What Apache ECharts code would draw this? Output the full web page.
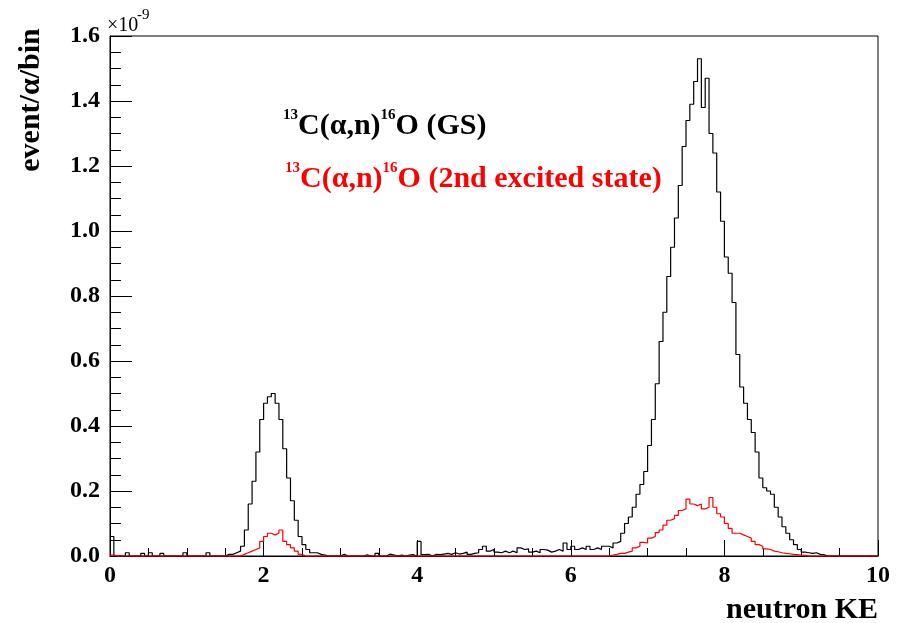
<!DOCTYPE html>
<html>
<head>
<meta charset="utf-8">
<script src="https://cdn.jsdelivr.net/npm/echarts@6/dist/echarts.min.js"></script>
<style>
  html, body { margin: 0; padding: 0; background: #fff; }
  #chart { width: 899px; height: 623px; }
</style>
</head>
<body>
<div id="chart"></div>
<script>
// Histogram binning (neutron KE axis)
const binStart = 0;
const binWidth = 0.05;

// 13C(a,n)16O ground state, event/alpha/bin in units of 1e-9 (bins of 0.05)
const gsValues = [
  0.06,0,0,0,0.01,0,0,0,0.008,0,0.01,0,0,0.008,0,0,0,0,0,0.01,
  0,0,0,0,0,0.01,0,0,0,0,0.005,0.005,0.01,0.015,0.03,0.08,0.16,0.23,0.32,0.42,
  0.47,0.49,0.50,0.47,0.42,0.33,0.24,0.17,0.11,0.06,0.035,0.02,0.01,0.01,0.005,0.003,0,0,0,0,
  0.005,0,0,0,0,0,0.004,0,0,0.008,0,0,0.006,0.003,0,0.003,0,0.003,0.004,0,
  0.045,0.004,0.005,0,0.005,0.004,0.006,0.008,0.005,0.01,0.006,0.008,0.012,0.005,0.008,0.01,0.02,0.03,0.015,0.02,
  0.012,0.01,0.015,0.01,0.015,0.01,0.025,0.02,0.022,0.012,0.015,0.01,0.02,0.018,0.012,0.015,0.02,0.015,0.04,0.02,
  0.03,0.02,0.025,0.02,0.03,0.02,0.025,0.02,0.03,0.03,0.025,0.04,0.045,0.07,0.10,0.12,0.15,0.19,0.22,0.26,
  0.34,0.42,0.53,0.66,0.75,0.86,0.95,1.04,1.14,1.26,1.34,1.39,1.46,1.53,1.38,1.47,1.30,1.24,1.12,1.03,
  0.92,0.87,0.78,0.62,0.52,0.47,0.42,0.38,0.32,0.24,0.21,0.20,0.19,0.15,0.12,0.09,0.07,0.05,0.035,0.02,
  0.012,0.01,0.008,0.01,0.005,0.004,0,0,0,0,0,0,0,0,0,0,0,0,0,0
];

// 13C(a,n)16O 2nd excited state
const excValues = [
  0.003,0,0,0,0,0,0,0,0,0,0,0,0,0,0,0,0,0,0,0,
  0,0,0,0,0,0,0,0,0,0,0,0,0,0,0.005,0.01,0.015,0.02,0.025,0.045,
  0.06,0.07,0.065,0.07,0.08,0.045,0.035,0.025,0.015,0.005,0,0,0,0,0,0,0,0,0,0,
  0,0,0,0,0,0,0,0,0,0,0,0,0,0,0,0,0,0,0,0,
  0,0,0,0,0,0,0,0,0,0,0,0,0,0,0,0,0,0,0,0,
  0,0,0,0,0,0,0,0,0,0,0,0,0,0,0,0,0,0,0,0,
  0,0,0,0,0,0,0,0,0,0,0.003,0.005,0.008,0.008,0.012,0.015,0.025,0.03,0.042,0.04,
  0.055,0.06,0.072,0.08,0.095,0.11,0.115,0.125,0.14,0.145,0.175,0.16,0.155,0.16,0.145,0.15,0.18,0.15,0.13,0.12,
  0.10,0.085,0.07,0.07,0.065,0.06,0.055,0.045,0.035,0.03,0.022,0.02,0.015,0.013,0.01,0.008,0.007,0.005,0.004,0.003,
  0.002,0,0,0,0,0,0,0,0,0,0,0,0,0,0,0,0,0,0,0
];

const xMin = 0, xMax = 10, xInterval = 2;
const yMin = 0, yMax = 1.6, yInterval = 0.2;

function toSteps(vals) {
  const d = vals.map((v, i) => [+(binStart + i * binWidth).toFixed(4), v]);
  d.push([+(binStart + vals.length * binWidth).toFixed(4), vals[vals.length - 1]]);
  return d;
}

const SERIF = '"Liberation Serif", "Times New Roman", serif';
const chart = echarts.init(document.getElementById('chart'), null, { renderer: 'canvas' });

chart.setOption({
  animation: false,
  backgroundColor: '#fff',
  grid: { left: 110, right: 21, top: 36, bottom: 67, show: true, borderColor: '#000', borderWidth: 1, backgroundColor: 'transparent' },
  xAxis: {
    type: 'value', min: xMin, max: xMax, interval: xInterval,
    axisLine: { show: true, onZero: false, lineStyle: { color: '#000', width: 1 } },
    axisTick: { show: true, inside: true, length: 16, lineStyle: { color: '#000', width: 1 } },
    minorTick: { show: true, splitNumber: 4, length: 8, lineStyle: { color: '#000', width: 1 } },
    splitLine: { show: false },
    minorSplitLine: { show: false },
    axisLabel: { color: '#000', fontFamily: SERIF, fontWeight: 'bold', fontSize: 24, margin: 8 }
  },
  yAxis: {
    type: 'value', min: yMin, max: yMax, interval: yInterval,
    axisLine: { show: true, lineStyle: { color: '#000', width: 1 } },
    axisTick: { show: true, inside: true, length: 22, lineStyle: { color: '#000', width: 1 } },
    minorTick: { show: true, splitNumber: 4, length: 11, lineStyle: { color: '#000', width: 1 } },
    splitLine: { show: false },
    axisLabel: { color: '#000', fontFamily: SERIF, fontWeight: 'bold', fontSize: 24, margin: 10,
      formatter: v => v.toFixed(1) }
  },
  series: [
    { type: 'line', step: 'end', data: toSteps(gsValues), symbol: 'none', clip: false,
      lineStyle: { color: '#000', width: 1.2 }, z: 3 },
    { type: 'line', step: 'end', data: toSteps(excValues), symbol: 'none', clip: false,
      lineStyle: { color: '#ff0000', width: 1.2 }, z: 4 }
  ],
  graphic: [
    { type: 'text', x: 107, y: 26, z: 10, style: { text: '×10', font: '20px ' + SERIF, fill: '#000', textAlign: 'left', textVerticalAlign: 'middle', align: 'left', verticalAlign: 'middle' } },
    { type: 'text', x: 137, y: 15, z: 10, style: { text: '-9', font: '15px ' + SERIF, fill: '#000', textAlign: 'left', textVerticalAlign: 'middle', align: 'left', verticalAlign: 'middle' } },
    { type: 'text', x: 31, y: 100, rotation: Math.PI / 2,
      style: { text: 'event/α/bin', font: 'bold 30px ' + SERIF, fill: '#000', textAlign: 'center', textVerticalAlign: 'middle', align: 'center', verticalAlign: 'middle' } },
    { type: 'text', x: 878, y: 610,
      style: { text: 'neutron KE', font: 'bold 30px ' + SERIF, fill: '#000', textAlign: 'right', textVerticalAlign: 'middle', align: 'right', verticalAlign: 'middle' } },
    { type: 'text', x: 283, y: 108,
      style: {
        text: '{s|13}{m|C(α,n)}{s|16}{m|O (GS)}',
        fill: '#000', textAlign: 'left', textVerticalAlign: 'top', align: 'left', verticalAlign: 'top',
        rich: {
          s: { fontFamily: SERIF, fontWeight: 'bold', fontSize: 15, lineHeight: 15, verticalAlign: 'top', fill: '#000', color: '#000' },
          m: { fontFamily: SERIF, fontWeight: 'bold', fontSize: 30, lineHeight: 33, verticalAlign: 'bottom', fill: '#000', color: '#000' }
        }
      } },
    { type: 'text', x: 285, y: 161,
      style: {
        text: '{s|13}{m|C(α,n)}{s|16}{m|O (2nd excited state)}',
        fill: '#ff0000', textAlign: 'left', textVerticalAlign: 'top', align: 'left', verticalAlign: 'top',
        rich: {
          s: { fontFamily: SERIF, fontWeight: 'bold', fontSize: 15, lineHeight: 15, verticalAlign: 'top', fill: '#ff0000', color: '#ff0000' },
          m: { fontFamily: SERIF, fontWeight: 'bold', fontSize: 30, lineHeight: 33, verticalAlign: 'bottom', fill: '#ff0000', color: '#ff0000' }
        }
      } }
  ]
});
</script>
</body>
</html>
